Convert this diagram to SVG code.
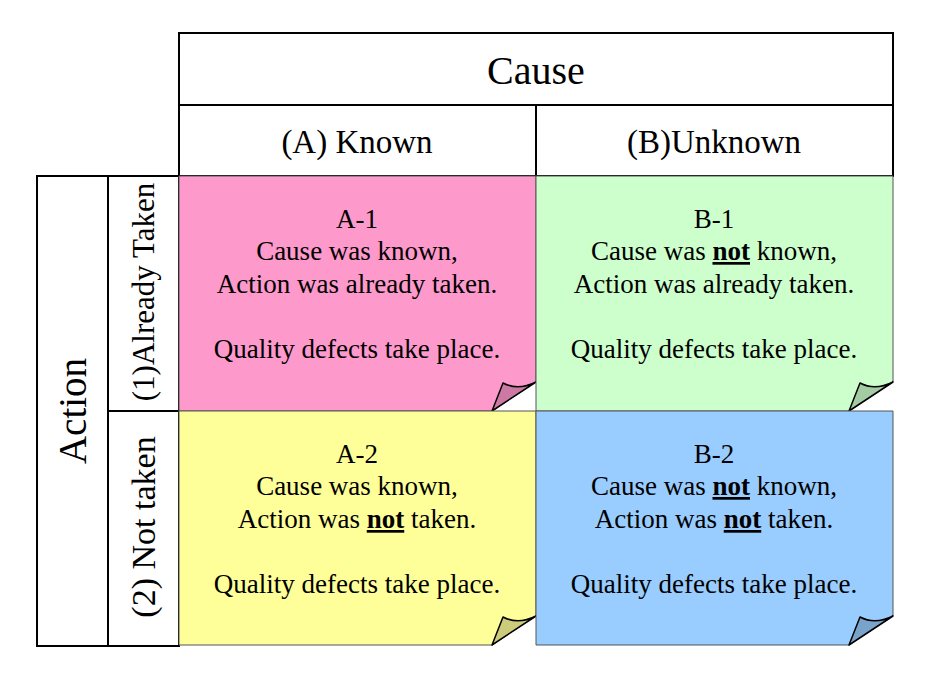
<svg xmlns="http://www.w3.org/2000/svg" width="926" height="675" viewBox="0 0 926 675">
<style>
text{font-family:"Liberation Serif","Times New Roman",serif;fill:#000;text-anchor:middle}
.hdr{font-size:40px}
.act{font-size:39px}
.sub{font-size:33px}
.cell{font-size:27px}
.b{font-weight:bold;text-decoration:underline}
.frame{fill:none;stroke:#000;stroke-width:2}
.flap{stroke:#000;stroke-width:1.5;stroke-linejoin:round}
.cellbg{stroke:#555;stroke-width:1}
</style>
<rect width="926" height="675" fill="#fff"/>
<g id="header">
<rect class="frame" x="179" y="33" width="714" height="143"/>
<line class="frame" x1="179" y1="105" x2="893" y2="105"/>
<line class="frame" x1="536" y1="105" x2="536" y2="176"/>
<text class="hdr" x="536" y="84">Cause</text>
<text class="sub" x="357" y="153">(A) Known</text>
<text class="sub" x="714" y="153">(B)Unknown</text>
</g>
<g id="side">
<rect class="frame" x="37" y="176" width="142" height="470"/>
<line class="frame" x1="108" y1="176" x2="108" y2="646"/>
<line class="frame" x1="108" y1="411" x2="179" y2="411"/>
<text class="act" transform="translate(86,411) rotate(-90)">Action</text>
<text style="font-size:31px" transform="translate(154,292) rotate(-90)">(1)Already Taken</text>
<text style="font-size:34px" transform="translate(155,527) rotate(-90)">(2) Not taken</text>
</g>
<g id="A1">
<path class="cellbg" d="M179,176 H536 V382 L492,411 H179 Z" fill="#fe99cc"/>
<path class="flap" d="M492,411 L503,383 Q518,391 536,382 Z" fill="#cc7aa3"/>
<text class="cell" x="357" y="228">A-1</text>
<text class="cell" x="357" y="260">Cause was known,</text>
<text class="cell" x="357" y="293">Action was already taken.</text>
<text class="cell" x="357" y="358">Quality defects take place.</text>
</g>
<g id="B1">
<path class="cellbg" d="M536,176 H893 V382 L849,411 H536 Z" fill="#ccffcc"/>
<path class="flap" d="M849,411 L860,383 Q875,391 893,382 Z" fill="#a3cca3"/>
<text class="cell" x="714" y="228">B-1</text>
<text class="cell" x="714" y="260">Cause was <tspan class="b">not</tspan> known,</text>
<text class="cell" x="714" y="293">Action was already taken.</text>
<text class="cell" x="714" y="358">Quality defects take place.</text>
</g>
<g id="A2">
<path class="cellbg" d="M179,411 H536 V616 L492,645 H179 Z" fill="#ffff99"/>
<path class="flap" d="M492,645 L503,617 Q518,625 536,616 Z" fill="#cccc7a"/>
<text class="cell" x="357" y="463">A-2</text>
<text class="cell" x="357" y="495">Cause was known,</text>
<text class="cell" x="357" y="528">Action was <tspan class="b">not</tspan> taken.</text>
<text class="cell" x="357" y="593">Quality defects take place.</text>
</g>
<g id="B2">
<path class="cellbg" d="M536,411 H893 V616 L849,645 H536 Z" fill="#99ccff"/>
<path class="flap" d="M849,645 L860,617 Q875,625 893,616 Z" fill="#7aa3cc"/>
<text class="cell" x="714" y="463">B-2</text>
<text class="cell" x="714" y="495">Cause was <tspan class="b">not</tspan> known,</text>
<text class="cell" x="714" y="528">Action was <tspan class="b">not</tspan> taken.</text>
<text class="cell" x="714" y="593">Quality defects take place.</text>
</g>
<g id="connectors"></g>
</svg>
